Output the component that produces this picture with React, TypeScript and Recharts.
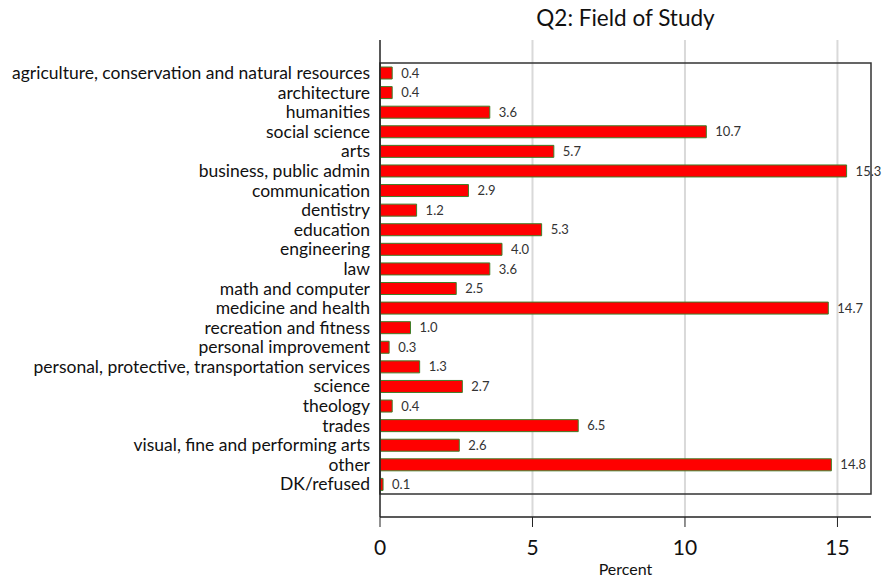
import { BarChart, Bar, XAxis, YAxis, CartesianGrid, LabelList, ReferenceArea } from "recharts";

const fields = [
  "agriculture, conservation and natural resources",
  "architecture",
  "humanities",
  "social science",
  "arts",
  "business, public admin",
  "communication",
  "dentistry",
  "education",
  "engineering",
  "law",
  "math and computer",
  "medicine and health",
  "recreation and fitness",
  "personal improvement",
  "personal, protective, transportation services",
  "science",
  "theology",
  "trades",
  "visual, fine and performing arts",
  "other",
  "DK/refused",
];

const percents = [0.4, 0.4, 3.6, 10.7, 5.7, 15.3, 2.9, 1.2, 5.3, 4.0, 3.6, 2.5, 14.7, 1.0, 0.3, 1.3, 2.7, 0.4, 6.5, 2.6, 14.8, 0.1];

const xTicks = [0, 5, 10, 15];

const data = fields.map((f, i) => ({ field: f, pct: percents[i] }));

const font = "Lato, 'Open Sans', sans-serif";

export default function App() {
  return (
    <div style={{ position: "absolute", left: 0, top: 0, width: 884, height: 580, background: "#fff", fontFamily: font }}>
      <div style={{ position: "absolute", left: 380, width: 491, top: 4, textAlign: "center", fontSize: 22.5, color: "#111" }}>
        Q2: Field of Study
      </div>
      <BarChart
        width={884}
        height={580}
        data={data}
        layout="vertical"
        margin={{ top: 40, right: 13, bottom: 0, left: 0 }}
        barSize={12}
      >
        <CartesianGrid horizontal={false} vertical stroke="#d9d9d9" strokeWidth={2} verticalValues={[5, 10, 15]} />
        <XAxis
          type="number"
          domain={[0, 16.1]}
          ticks={xTicks}
          height={63}
          tickSize={10}
          tickMargin={13}
          axisLine={{ stroke: "#222", strokeWidth: 1.5 }}
          tickLine={{ stroke: "#222" }}
          tick={{ fontSize: 21, fill: "#111", fontFamily: font }}
          allowDataOverflow
          label={{ value: "Percent", position: "insideBottom", offset: 5, fontSize: 16, fill: "#111", fontFamily: font }}
        />
        <YAxis
          type="category"
          dataKey="field"
          width={380}
          padding={{ top: 23, bottom: 23 }}
          axisLine={{ stroke: "#222", strokeWidth: 1.5 }}
          tickLine={false}
          tickSize={0}
          tickMargin={10}
          interval={0}
          tick={{ fontSize: 17.5, fill: "#111", fontFamily: font }}
        />
        <ReferenceArea x1={0} x2={16.1} fill="none" stroke="#333" strokeWidth={1.5} ifOverflow="visible" />
        <Bar dataKey="pct" fill="#ff0000" stroke="#3f7f2a" strokeWidth={1} isAnimationActive={false}>
          <LabelList
            dataKey="pct"
            position="right"
            offset={9}
            formatter={(v: number) => v.toFixed(1)}
            style={{ fontSize: 13, fill: "#333", fontFamily: font }}
          />
        </Bar>
      </BarChart>
    </div>
  );
}
